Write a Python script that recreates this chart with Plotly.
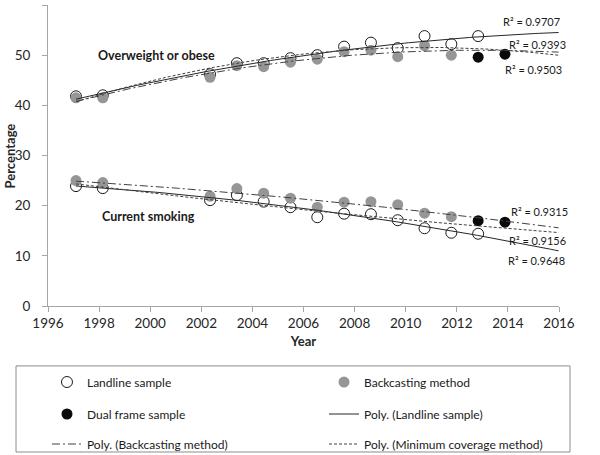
import numpy as np
import plotly.graph_objects as go

# ---------------- data ----------------
years_landline = [1997, 1998, 2002, 2003, 2004, 2005, 2006, 2007, 2008, 2009, 2010, 2011, 2012]
years_backcast = [1997, 1998, 2002, 2003, 2004, 2005, 2006, 2007, 2008, 2009, 2010, 2011]
years_dual = [2012, 2013]

ow_landline = [41.8, 42.0, 46.2, 48.4, 48.4, 49.4, 50.0, 51.7, 52.5, 51.4, 53.8, 52.2, 53.8]
ow_backcast = [41.5, 41.5, 45.6, 47.9, 47.7, 48.6, 49.2, 50.7, 51.0, 49.7, 51.9, 50.0]
ow_dual = [49.6, 50.2]

sm_landline = [23.9, 23.5, 21.1, 22.1, 20.8, 19.7, 17.7, 18.4, 18.3, 17.1, 15.5, 14.6, 14.4]
sm_backcast = [25.0, 24.6, 21.9, 23.4, 22.5, 21.5, 19.7, 20.7, 20.8, 20.2, 18.5, 17.8]
sm_dual = [17.0, 16.7]

r2_labels_ow = ["R² = 0.9707", "R² = 0.9393", "R² = 0.9503"]
r2_labels_sm = ["R² = 0.9315", "R² = 0.9156", "R² = 0.9648"]

trend_start, trend_end = 1997, 2015

FONT = "Lato"
GRAY = "#969696"
LINE = "#262626"

# minimum coverage series = landline up to 2011 + dual frame 2012-2013
def min_cov(years_l, vals_l, years_d, vals_d):
    xs = [y for y in years_l if y < years_d[0]] + list(years_d)
    ys = [v for y, v in zip(years_l, vals_l) if y < years_d[0]] + list(vals_d)
    return xs, ys

def poly2(xs, ys):
    c = np.polyfit(np.array(xs) - 2000, np.array(ys), 2)
    xx = np.linspace(trend_start, trend_end, 120)
    return xx, np.polyval(c, xx - 2000)

fig = go.Figure()

def add_group(lx, ly, bx, by, dx, dy, show):
    common = dict(xaxis="x2", yaxis="y", showlegend=show)
    fig.add_trace(go.Scatter(x=lx, y=ly, mode="markers", name="Landline sample",
                             marker=dict(symbol="circle", size=11, color="white",
                                         line=dict(color="#1a1a1a", width=1)),
                             legend="legend", **common))
    fig.add_trace(go.Scatter(x=bx, y=by, mode="markers", name="Backcasting method",
                             marker=dict(symbol="circle", size=11, color=GRAY),
                             legend="legend2", **common))
    fig.add_trace(go.Scatter(x=dx, y=dy, mode="markers", name="Dual frame sample",
                             marker=dict(symbol="circle", size=11, color="#0a0a0a"),
                             legend="legend3", **common))
    tx, ty = poly2(lx, ly)
    fig.add_trace(go.Scatter(x=tx, y=ty, mode="lines", name="Poly. (Landline sample)",
                             line=dict(color=LINE, width=1),
                             legend="legend4", **common))
    tx, ty = poly2(bx, by)
    fig.add_trace(go.Scatter(x=tx, y=ty, mode="lines", name="Poly. (Backcasting method)",
                             line=dict(color="#404040", width=1, dash="8px,3px,2px,3px"),
                             legend="legend5", **common))
    mx, my = min_cov(lx, ly, dx, dy)
    tx, ty = poly2(mx, my)
    fig.add_trace(go.Scatter(x=tx, y=ty, mode="lines", name="Poly. (Minimum coverage method)",
                             line=dict(color="#404040", width=1, dash="3px,2px"),
                             legend="legend6", **common))

# empty trace so the labelled year axis exists
fig.add_trace(go.Scatter(x=[], y=[], xaxis="x", yaxis="y", showlegend=False))

add_group(years_landline, ow_landline, years_backcast, ow_backcast, years_dual, ow_dual, True)
add_group(years_landline, sm_landline, years_backcast, sm_backcast, years_dual, sm_dual, False)

annots = [
    dict(x=2000.0, y=50.0, text="<b>Overweight or obese</b>", font=dict(size=12.5)),
    dict(x=1999.7, y=17.9, text="<b>Current smoking</b>", font=dict(size=12.5)),
]
for txt, yy, xx in zip(r2_labels_ow, [56.7, 52.2, 47.2], [2014.0, 2014.2, 2014.07]):
    annots.append(dict(x=xx, y=yy, text=txt, font=dict(size=11)))
for txt, yy, xx in zip(r2_labels_sm, [18.8, 13.0, 9.0], [2014.27, 2014.2, 2014.18]):
    annots.append(dict(x=xx, y=yy, text=txt, font=dict(size=11)))
for a in annots:
    a.update(xref="x2", yref="y", showarrow=False)
    a["font"].update(family=FONT, color="#1a1a1a")
# y-axis title
annots.append(dict(x=-0.0744, y=0.5, xref="paper", yref="paper", showarrow=False,
                   text="<b>Percentage</b>", textangle=-90, xanchor="center", yanchor="middle",
                   font=dict(family=FONT, size=13, color="#262626")))

def leg(x, y):
    return dict(orientation="v", xref="container", yref="container",
                xanchor="left", yanchor="middle", x=x, y=y,
                font=dict(family=FONT, size=12, color="#1a1a1a"),
                bgcolor="rgba(0,0,0,0)", itemwidth=30)

colL, colR = 0.0783, 0.54
row1, row2, row3 = 0.1604, 0.0901, 0.0242

fig.update_layout(
    width=600, height=455,
    margin=dict(l=48, r=41, t=5, b=149, autoexpand=False),
    paper_bgcolor="white", plot_bgcolor="white",
    font=dict(family=FONT, color="#262626"),
    xaxis=dict(range=[1996, 2016], tick0=1996, dtick=2, showgrid=False, zeroline=False,
               showline=True, linecolor="#a6a6a6", linewidth=1,
               ticks="outside", ticklen=5, tickcolor="#a6a6a6",
               tickfont=dict(family=FONT, size=13.5, color="#262626"),
               title=dict(text="<b>Year</b>", font=dict(family=FONT, size=13), standoff=6)),
    xaxis2=dict(range=[1995.956, 2015.015], overlaying="x", visible=False),
    yaxis=dict(range=[0, 60], dtick=10, showgrid=False, zeroline=False,
               showline=True, linecolor="#a6a6a6", linewidth=1,
               ticks="outside", ticklen=5, tickcolor="#a6a6a6", ticklabelstandoff=9,
               tickfont=dict(family=FONT, size=13.5, color="#262626")),
    annotations=annots,
    legend=leg(colL, row1), legend2=leg(colR, row1),
    legend3=leg(colL, row2), legend4=leg(colR, row2),
    legend5=leg(colL, row3), legend6=leg(colR, row3),
    shapes=[dict(type="rect", xref="paper", yref="paper",
                 x0=-0.0626, x1=1.0215, y0=-0.485, y1=-0.199,
                 line=dict(color="#8c8c8c", width=1), fillcolor="rgba(0,0,0,0)")],
)

fig.write_html("out.html", config={"displayModeBar": False},
               post_script="document.body.style.margin='0px';")
